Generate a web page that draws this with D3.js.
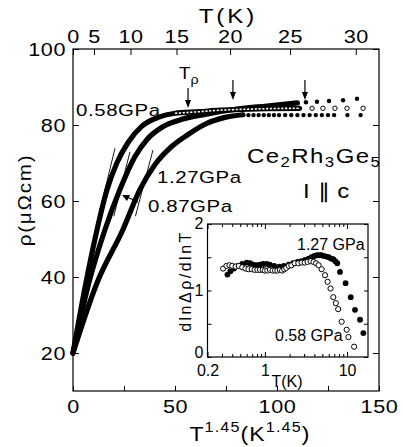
<!DOCTYPE html>
<html><head><meta charset="utf-8">
<script src="https://cdn.jsdelivr.net/npm/d3@7"></script>
<style>
html,body{margin:0;padding:0;background:#fff;}
svg{display:block;}
</style></head>
<body>
<svg id="chart" width="403" height="447"></svg>
<script>
// ---------------- DATA ----------------
// Main panel: x = T^1.45 (K^1.45), y = rho (micro-ohm cm)
const pressureLabels = ["0.58GPa", "0.87GPa", "1.27GPa"];
// 0.58 GPa (open circles) – dense part
const x058 = [0, 5.8, 11.8, 16.7, 21.5, 27, 33.8, 41.7, 50];
const r058 = [20, 37, 52.5, 63, 70, 75.4, 79.7, 82, 83.1];
// 0.58 GPa – dense open-circle chain
const x058chain = [50, 62, 72, 82, 95, 111];
const r058chain = [83.1, 83.5, 83.9, 84.1, 84.3, 84.4];
// 0.58 GPa – sparse open circles
const x058sparse = [117.2, 122.5, 128.4, 134.3, 142.2];
const r058sparse = [84.4, 84.4, 84.4, 84.4, 84.4];
// 0.87 GPa – dense
const x087 = [0, 7.8, 15.7, 23, 30.4, 36.3, 43.6, 53.4, 64.7, 78, 95, 110];
const r087 = [20, 38.5, 52.5, 63, 71.7, 76.2, 79.4, 81.5, 82.8, 84, 85, 85.8];
// 0.87 GPa – sparse dots
const x087sparse = [114.2, 119.6, 125.5, 132.4, 139.2];
const r087sparse = [86.0, 86.1, 86.3, 86.5, 86.9];
// 1.27 GPa – dense
const x127 = [0, 11.8, 24.5, 32.8, 40.2, 48.5, 56.4, 64.7, 74.5, 83.3];
const r127 = [20, 38.5, 52.5, 63, 69.6, 74.4, 77.5, 80.2, 82, 82.7];
// 1.27 GPa – dots
const x127sparse = [86, 88.5, 91, 93.5, 96, 98.5, 101, 104, 107, 110, 113, 116, 119, 122, 125, 128, 134.5, 141];
const r127sparse = [82.6, 82.6, 82.6, 82.6, 82.6, 82.6, 82.6, 82.6, 82.6, 82.6, 82.6, 82.6, 82.6, 82.6, 82.6, 82.6, 82.6, 82.6];
// thin straight guide lines (T^1.45 fits): [x1, rho1, x2, rho2]
const guideX1 = [12.5, 20.0, 30.6];
const guideR1 = [56, 56, 56];
const guideX2 = [20.6, 27.9, 39.2];
const guideR2 = [73.9, 72.9, 73.4];
// T_rho arrows
const arrowX = [56.4, 78.4, 113.7];
const arrowR = [84.5, 86.6, 86.6];

// axis ticks
const yTicks = [20, 40, 60, 80, 100];
const xTicks = [0, 25, 50, 75, 100, 125, 150];
const xLabels = [0, 50, 100, 150];
const tTicks = [0, 5, 10, 15, 20, 25, 30];

// Inset: dlnΔρ/dlnT vs T(K), log x
const insetYTicks = [0, 0.5, 1, 1.5, 2];
const insetXMajor = [0.2, 1, 10];
const insetXMinor = [0.3, 0.4, 0.5, 0.6, 0.7, 0.8, 0.9, 2, 3, 4, 5, 6, 7, 8, 9];
const insetT058 = [0.31,0.34,0.37,0.40,0.44,0.48,0.53,0.58,0.63,0.69,0.75,0.81,0.87,0.94,1.0,1.07,1.15,1.24,1.33,1.42,1.52,1.62,1.72,1.82,1.95,2.1,2.3,2.55,2.8,3.05,3.3,3.6,3.9,4.2,4.5,4.9,5.4,5.8,6.3,6.8,7.3,7.8,8.6,9.9,10.4,12.2];
const insetV058 = [1.33,1.37,1.38,1.37,1.36,1.37,1.35,1.33,1.32,1.32,1.31,1.31,1.31,1.31,1.30,1.30,1.31,1.30,1.30,1.30,1.31,1.30,1.32,1.34,1.37,1.38,1.41,1.41,1.42,1.42,1.43,1.44,1.43,1.41,1.38,1.32,1.23,1.13,1.03,0.90,0.81,0.72,0.53,0.41,0.30,0.155];
const insetT127 = [0.35,0.38,0.42,0.47,0.53,0.6,0.66,0.72,0.79,0.87,0.95,1.05,1.15,1.3,1.5,1.7,1.95,2.2,2.5,2.8,3.1,3.4,3.7,4.0,4.3,4.6,4.9,5.2,5.6,6.0,6.4,6.8,7.2,7.6,8.2,9.6,11.1,12.5,14.4,15.8];
const insetV127 = [1.24,1.29,1.33,1.37,1.40,1.42,1.41,1.39,1.38,1.39,1.40,1.40,1.39,1.37,1.36,1.37,1.39,1.41,1.43,1.44,1.46,1.48,1.50,1.52,1.53,1.53,1.53,1.52,1.51,1.50,1.48,1.47,1.44,1.41,1.28,1.11,0.90,0.71,0.56,0.36];

// ---------------- DRAW ----------------
const FONT = "'Liberation Sans', Arial, Helvetica, sans-serif";
const SX = 1.2;
const svg = d3.select("#chart");
svg.append("rect").attr("width", 403).attr("height", 447).attr("fill", "#fff");

const x = d3.scaleLinear().domain([0, 150]).range([73, 379]);
const y = d3.scaleLinear().domain([10, 100]).range([391, 49]);
const xT = d3.scalePow().exponent(1.45).domain([0, Math.pow(150, 1 / 1.45)]).range([73, 379]);

function stretch(sel) {
  sel.each(function () {
    const t = d3.select(this);
    const tx = +t.attr("x") || 0, ty = +t.attr("y") || 0;
    t.attr("transform", `translate(${tx},${ty}) scale(${SX},1) translate(${-tx},${-ty})`);
  });
}

// label with stretched glyphs; parts = [[text, size, dy, ls]]
function label(xp, yp, parts, anchor, sx) {
  const g = svg.append("g").attr("transform", `translate(${xp},${yp}) scale(${sx || SX},1)`);
  const t = g.append("text").attr("x", 0).attr("y", 0)
    .attr("font-family", FONT).attr("fill", "#000").attr("text-anchor", anchor || "start");
  parts.forEach(p => {
    t.append("tspan").text(p[0]).attr("font-size", p[1]).attr("dy", p[2] || 0)
      .attr("letter-spacing", p[3] || 0);
  });
  return t;
}

// axes
const axisStyle = g => {
  g.select(".domain").remove();
  g.selectAll("line").attr("stroke", "#000").attr("stroke-width", 1);
  g.selectAll("text").attr("font-family", FONT).attr("font-size", 18).attr("fill", "#000").attr("letter-spacing", 0.5);
};
svg.append("g").attr("transform", "translate(73,0)")
  .call(d3.axisLeft(y).tickValues(yTicks).tickSize(-6).tickPadding(7))
  .call(axisStyle).call(g => g.selectAll("text").attr("dy", "0.36em").call(stretch));
svg.append("g").attr("transform", "translate(379,0)")
  .call(d3.axisRight(y).tickValues(yTicks).tickSize(-6).tickFormat(""))
  .call(axisStyle);
svg.append("g").attr("transform", "translate(0,391)")
  .call(d3.axisBottom(x).tickValues(xTicks).tickSize(-5).tickPadding(9)
    .tickFormat(d => xLabels.includes(d) ? d : ""))
  .call(axisStyle).call(g => g.selectAll("text").call(stretch));
svg.append("g").attr("transform", "translate(0,49)")
  .call(d3.axisTop(xT).tickValues(tTicks).tickSize(-6).tickPadding(6))
  .call(axisStyle).call(g => g.selectAll("text").call(stretch));

svg.append("rect").attr("x", 73).attr("y", 49).attr("width", 306).attr("height", 342)
  .attr("fill", "none").attr("stroke", "#000").attr("stroke-width", 1.2);

// axis titles
label(228, 23, [["T(K)", 20, 0, 2.5]], "middle");
label(250, 441, [["T", 20, 0, 1], ["1.45", 14, -9, 1], ["(K", 20, 9, 1], ["1.45", 14, -9, 1], [")", 20, 9, 1]], "middle", 1.15);
svg.append("g").attr("transform", "translate(31,200) rotate(-90) scale(1.15,1)")
  .append("text").attr("text-anchor", "middle").attr("font-family", FONT).attr("font-size", 18)
  .attr("letter-spacing", 1.5).text("ρ(μΩcm)");

// guide lines
const guides = guideX1.map((d, i) => [guideX1[i], guideR1[i], guideX2[i], guideR2[i]]);
svg.append("g").selectAll("line").data(guides).join("line")
  .attr("x1", d => x(d[0])).attr("y1", d => y(d[1]))
  .attr("x2", d => x(d[2])).attr("y2", d => y(d[3]))
  .attr("stroke", "#000").attr("stroke-width", 0.9);

// curves
const line = d3.line().x(d => x(d[0])).y(d => y(d[1])).curve(d3.curveMonotoneX);
const zip = (a, b) => a.map((v, i) => [v, b[i]]);
const curves = [zip(x058, r058).concat(zip(x058chain, r058chain).slice(1)), zip(x087, r087), zip(x127, r127)];
svg.append("g").selectAll("path").data(curves).join("path")
  .attr("d", line).attr("fill", "none").attr("stroke", "#000")
  .attr("stroke-width", 5.2).attr("stroke-linecap", "round").attr("stroke-linejoin", "round");
// open circle chain look
svg.append("path").datum(zip(x058chain, r058chain)).attr("d", line)
  .attr("fill", "none").attr("stroke", "#fff").attr("stroke-width", 1.6)
  .attr("stroke-dasharray", "2.2,1.6");

// sparse markers
svg.append("g").selectAll("circle").data(zip(x058sparse, r058sparse)).join("circle")
  .attr("cx", d => x(d[0])).attr("cy", d => y(d[1])).attr("r", 2.2)
  .attr("fill", "#fff").attr("stroke", "#000").attr("stroke-width", 1);
svg.append("g").selectAll("circle").data(zip(x087sparse, r087sparse).concat(zip(x127sparse, r127sparse))).join("circle")
  .attr("cx", d => x(d[0])).attr("cy", d => y(d[1])).attr("r", 2.2).attr("fill", "#000");

// arrows
arrowX.forEach((ax, i) => {
  const tx = x(ax), ty = y(arrowR[i]);
  svg.append("line").attr("x1", tx).attr("x2", tx).attr("y1", ty - 20).attr("y2", ty - 5)
    .attr("stroke", "#000").attr("stroke-width", 1.2);
  svg.append("path").attr("d", `M${tx - 3},${ty - 8}L${tx + 3},${ty - 8}L${tx},${ty}Z`).attr("fill", "#000");
});
label(179, 79, [["T", 17], ["ρ", 13, 5]], "start", 1.1);

// main labels
label(76, 116, [["0.58GPa", 17, 0, 0.5]], "start");
label(157, 183, [["1.27GPa", 17, 0, 0.5]], "start");
label(148, 212, [["0.87GPa", 17, 0, 0.5]], "start");
// arrow for 0.87
svg.append("line").attr("x1", 138).attr("y1", 202).attr("x2", 128).attr("y2", 197.5)
  .attr("stroke", "#000").attr("stroke-width", 1.2);
svg.append("path").attr("d", "M122,195 L130,195 L127,201 Z").attr("fill", "#000");
label(247, 163, [["Ce", 20, 0, 1.2], ["2", 14, 4, 1.2], ["Rh", 20, -4, 1.2], ["3", 14, 4, 1.2], ["Ge", 20, -4, 1.2], ["5", 14, 4, 1.2]], "start");
label(303, 198, [["I ∥ c", 20, 0, 0.5]], "start");

// ---------------- INSET ----------------
const ix = d3.scaleLog().domain([0.2, 18]).range([207.5, 368]);
const iy = d3.scaleLinear().domain([0, 2]).range([357, 224]);
svg.append("rect").attr("x", 207.5).attr("y", 224).attr("width", 160.5).attr("height", 133)
  .attr("fill", "#fff");
const iStyle = g => {
  g.select(".domain").remove();
  g.selectAll("line").attr("stroke", "#000").attr("stroke-width", 1);
  g.selectAll("text").attr("font-family", FONT).attr("font-size", 16).attr("fill", "#000");
};
svg.append("g").attr("transform", "translate(207.5,0)")
  .call(d3.axisLeft(iy).tickValues(insetYTicks).tickSize(-4).tickPadding(4)
    .tickFormat(d => Number.isInteger(d) ? d : "")).call(iStyle)
  .call(g => g.selectAll("text").attr("dy", d => d === 0 ? "0.02em" : "0.3em"));
svg.append("g").attr("transform", "translate(368,0)")
  .call(d3.axisRight(iy).tickValues(insetYTicks).tickSize(-4).tickFormat("")).call(iStyle);
svg.append("g").attr("transform", "translate(0,357)")
  .call(d3.axisBottom(ix).tickValues(insetXMajor).tickSize(-5).tickPadding(7.5).tickFormat(d => d)).call(iStyle);
svg.append("g").attr("transform", "translate(0,357)")
  .call(d3.axisBottom(ix).tickValues(insetXMinor).tickSize(-3).tickFormat("")).call(iStyle);
svg.append("g").attr("transform", "translate(0,224)")
  .call(d3.axisTop(ix).tickValues(insetXMajor).tickSize(-5).tickFormat("")).call(iStyle);
svg.append("g").attr("transform", "translate(0,224)")
  .call(d3.axisTop(ix).tickValues(insetXMinor).tickSize(-3).tickFormat("")).call(iStyle);
svg.append("rect").attr("x", 207.5).attr("y", 224).attr("width", 160.5).attr("height", 133)
  .attr("fill", "none").attr("stroke", "#000").attr("stroke-width", 1.2);

svg.append("g").selectAll("circle").data(zip(insetT127, insetV127)).join("circle")
  .attr("cx", d => ix(d[0])).attr("cy", d => iy(d[1])).attr("r", 2.9).attr("fill", "#000");
svg.append("g").selectAll("circle").data(zip(insetT058, insetV058)).join("circle")
  .attr("cx", d => ix(d[0])).attr("cy", d => iy(d[1])).attr("r", 2.6)
  .attr("fill", "#fff").attr("stroke", "#000").attr("stroke-width", 1);

svg.append("text").attr("x", 297).attr("y", 250).attr("font-family", FONT).attr("font-size", 16).text("1.27 GPa");
svg.append("text").attr("x", 275).attr("y", 341).attr("font-family", FONT).attr("font-size", 16).text("0.58 GPa");
svg.append("text").attr("x", 287).attr("y", 387).attr("text-anchor", "middle").attr("font-family", FONT).attr("font-size", 16).text("T(K)");
svg.append("text").attr("transform", "translate(191,281) rotate(-90)").attr("text-anchor", "middle")
  .attr("font-family", FONT).attr("font-size", 16).attr("letter-spacing", 2.5).text("dlnΔρ/dlnT");
</script>
</body></html>
